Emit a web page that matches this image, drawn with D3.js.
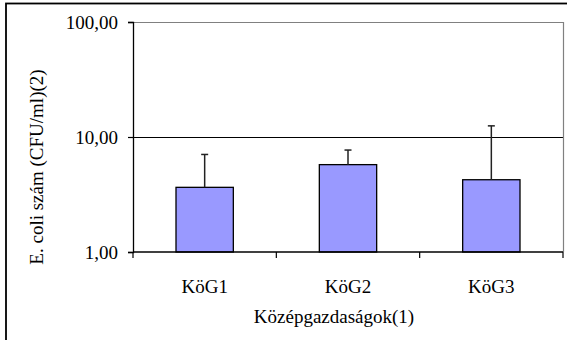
<!DOCTYPE html>
<html>
<head>
<meta charset="utf-8">
<script src="https://cdn.jsdelivr.net/npm/d3@7"></script>
<style>
  body { margin: 0; background: #fff; }
  text { font-family: "Liberation Serif", "Times New Roman", serif; font-size: 19px; fill: #000; }
</style>
</head>
<body>
<svg id="chart" width="567" height="340"></svg>
<script>
const categories = ["KöG1", "KöG2", "KöG3"];
const means = [3.65, 5.75, 4.25];
const errorTops = [7.05, 7.7, 12.5];
const yTicks = [1, 10, 100];
const xTitle = "Középgazdaságok(1)";
const yTitle = "E. coli szám (CFU/ml)(2)";

const svg = d3.select("#chart");
const pLeft = 133, pRight = 563, pTop = 22, pBottom = 252;

// outer frame
svg.append("rect").attr("x", 6).attr("y", 3.5).attr("width", 700).attr("height", 500)
  .attr("fill", "none").attr("stroke", "#000").attr("stroke-width", 1.8);

const y = d3.scaleLog().domain([1, 100]).range([pBottom, pTop]);
const x = d3.scaleBand().domain(categories).range([pLeft, pRight]).padding(0);

const locale = d3.formatLocale({decimal: ",", thousands: " ", grouping: [3], currency: ["", ""]});
const fmt = locale.format(".2f");

// gridlines
svg.append("g").selectAll("line").data(yTicks.filter(d => d > 1 && d < 100)).join("line")
  .attr("x1", pLeft).attr("x2", pRight)
  .attr("y1", d => Math.round(y(d)) + 0.5).attr("y2", d => Math.round(y(d)) + 0.5)
  .attr("stroke", "#000").attr("stroke-width", 1);

// plot border (gray) top and right
svg.append("path")
  .attr("d", `M${pLeft},${pTop + 0.5}H${pRight + 0.5}V${pBottom}`)
  .attr("fill", "none").attr("stroke", "#808080").attr("stroke-width", 1.2);

// bars
const bw = x.bandwidth() * 0.4;
svg.append("g").selectAll("rect").data(categories).join("rect")
  .attr("x", d => x(d) + (x.bandwidth() - bw) / 2)
  .attr("y", (d, i) => y(means[i]))
  .attr("width", bw)
  .attr("height", (d, i) => y(1) - y(means[i]))
  .attr("fill", "#9999FF").attr("stroke", "#000").attr("stroke-width", 1.3);

// error bars
const eb = svg.append("g").attr("stroke", "#222").attr("stroke-width", 1.5);
categories.forEach((c, i) => {
  const cx = x(c) + x.bandwidth() / 2;
  eb.append("line").attr("x1", cx).attr("x2", cx).attr("y1", y(means[i])).attr("y2", y(errorTops[i]));
  eb.append("line").attr("x1", cx - 3.5).attr("x2", cx + 3.5).attr("y1", y(errorTops[i])).attr("y2", y(errorTops[i]));
});

// y axis
const yAxis = d3.axisLeft(y).tickValues(yTicks).tickFormat(fmt).tickSize(5).tickPadding(10);
const gy = svg.append("g").attr("transform", `translate(${pLeft},0)`).call(yAxis);
gy.select(".domain").attr("stroke", "#000").attr("stroke-width", 1.3);
gy.selectAll(".tick line").attr("stroke", "#000").attr("stroke-width", 1.2);
gy.selectAll(".tick text").attr("font-family", "Liberation Serif").attr("font-size", 19).attr("dy", "0.33em");

// x axis
const xTickScale = d3.scaleLinear().domain([0, categories.length]).range([pLeft, pRight]);
const gx = svg.append("g").attr("transform", `translate(0,${pBottom})`);
gx.append("line").attr("x1", pLeft).attr("x2", pRight).attr("y1", 0).attr("y2", 0)
  .attr("stroke", "#000").attr("stroke-width", 1.3);
gx.selectAll(".tk").data(d3.range(categories.length + 1)).join("line")
  .attr("x1", d => xTickScale(d)).attr("x2", d => xTickScale(d))
  .attr("y1", 0).attr("y2", 6).attr("stroke", "#000").attr("stroke-width", 1.2);
const xAxis = d3.axisBottom(x).tickSize(0).tickPadding(0);
const gxl = svg.append("g").attr("transform", `translate(0,${pBottom})`).call(xAxis);
gxl.select(".domain").remove();
gxl.selectAll(".tick text").attr("font-family", "Liberation Serif").attr("font-size", 19)
  .attr("dy", null).attr("y", 40.5);

// titles
svg.append("text").attr("x", (pLeft + pRight) / 2 - 14).attr("y", 323).attr("text-anchor", "middle").text(xTitle);
svg.append("text").attr("transform", "translate(43,167) rotate(-90)").attr("text-anchor", "middle").text(yTitle);
</script>
</body>
</html>
